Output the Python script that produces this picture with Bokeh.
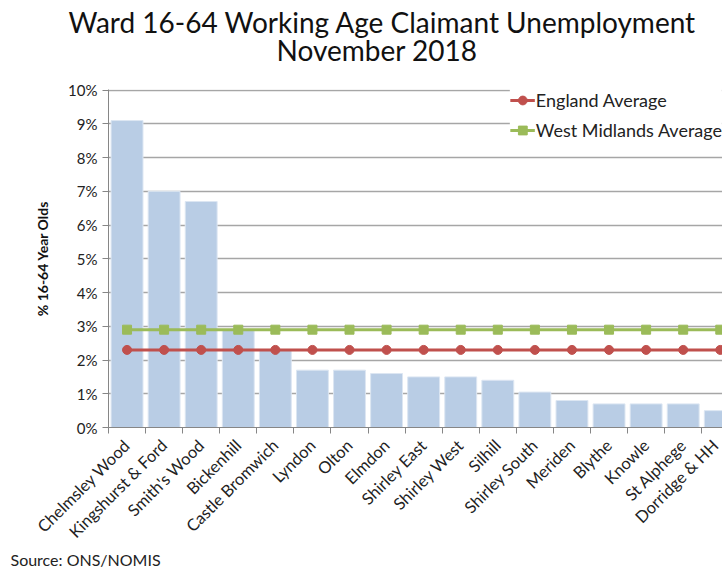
from bokeh.plotting import figure
from bokeh.models import FixedTicker, Range1d, Legend, LegendItem, Title
from bokeh.embed import file_html
from bokeh.resources import INLINE
import math

wards = ["Chelmsley Wood", "Kingshurst & Ford", "Smith's Wood", "Bickenhill",
         "Castle Bromwich", "Lyndon", "Olton", "Elmdon", "Shirley East",
         "Shirley West", "Silhill", "Shirley South", "Meriden", "Blythe",
         "Knowle", "St Alphege", "Dorridge & HH"]
rates = [9.1, 7.0, 6.7, 2.9, 2.3, 1.7, 1.7, 1.6, 1.5, 1.5, 1.4, 1.05,
         0.8, 0.7, 0.7, 0.7, 0.5]
england_avg = [2.3] * len(wards)
wm_avg = [2.9] * len(wards)
y_ticks = [0, 1, 2, 3, 4, 5, 6, 7, 8, 9, 10]
y_tick_labels = ["0%", "1%", "2%", "3%", "4%", "5%", "6%", "7%", "8%", "9%", "10%"]
title_lines = ["Ward 16-64 Working Age Claimant Unemployment", "November 2018"]
y_title = "% 16-64 Year Olds"
source_note = "Source: ONS/NOMIS"

FONT = "Lato"
xs = [i + 0.5 for i in range(len(wards))]

W, H = 722, 570
LEFT, TOP, BOTTOM = 108, 89, 143

p = figure(width=W, height=H, output_backend="svg", toolbar_location=None,
           x_range=Range1d(0, 16.56), y_range=Range1d(0, 10.02),
           min_border_left=LEFT, min_border_right=0, min_border_top=TOP,
           min_border_bottom=BOTTOM)
p.outline_line_color = None
p.background_fill_color = "white"
p.title = None

p.vbar(x=xs, top=rates, width=0.86, fill_color="#b9cde5",
       line_color="#dce6f2", line_width=1)

eng_line = p.line(xs, england_avg, line_color="#c0504d", line_width=3)
eng_mark = p.scatter(xs, england_avg, marker="circle", size=9,
                     fill_color="#c0504d", line_color="#c0504d")
wm_line = p.line(xs, wm_avg, line_color="#9bbb59", line_width=3)
wm_mark = p.scatter(xs, wm_avg, marker="square", size=9,
                    fill_color="#9bbb59", line_color="#9bbb59")

legend = Legend(items=[
    LegendItem(label="England Average", renderers=[eng_line, eng_mark]),
    LegendItem(label="West Midlands Average", renderers=[wm_line, wm_mark]),
], location="top_right", margin=0, padding=2, spacing=8,
    glyph_width=25, glyph_height=22, label_height=22, label_standoff=1,
    label_text_font=FONT, label_text_font_size="18px",
    label_text_color="#222222", background_fill_color="white",
    background_fill_alpha=1.0, border_line_color=None)
p.add_layout(legend, "center")

# x axis: labels at category centres, ticks at category boundaries
xa = p.xaxis[0]
xa.ticker = FixedTicker(ticks=xs, minor_ticks=list(range(len(wards) + 1)))
xa.major_label_overrides = {x: w for x, w in zip(xs, wards)}
xa.major_label_orientation = math.pi / 4
xa.major_tick_line_color = None
xa.minor_tick_in = 0
xa.minor_tick_out = 6
xa.minor_tick_line_color = "#868686"
xa.axis_line_color = "#868686"
xa.major_label_text_font = FONT
xa.major_label_text_font_size = "16.5px"
xa.major_label_text_color = "#222222"
xa.major_label_standoff = 9

# y axis
ya = p.yaxis[0]
ya.ticker = FixedTicker(ticks=y_ticks, minor_ticks=[])
ya.major_label_overrides = {t: l for t, l in zip(y_ticks, y_tick_labels)}
ya.major_tick_in = 0
ya.major_tick_out = 6
ya.major_tick_line_color = "#868686"
ya.axis_line_color = "#868686"
ya.major_label_text_font = FONT
ya.major_label_text_font_size = "15px"
ya.major_label_text_color = "#222222"
ya.axis_label = y_title
ya.axis_label_text_font = FONT
ya.axis_label_text_font_size = "14px"
ya.axis_label_text_font_style = "bold"
ya.axis_label_text_color = "#111111"
ya.axis_label_standoff = 14

p.xgrid.grid_line_color = None
p.ygrid.ticker = FixedTicker(ticks=y_ticks)
p.ygrid.grid_line_color = "#a6a6a6"
p.ygrid.grid_line_width = 1.5

# titles (added nearest-first)
p.add_layout(Title(text=title_lines[1], align="left", text_font=FONT,
                   text_font_size="28px", text_font_style="normal",
                   text_color="#111111", standoff=46, offset=168), "above")
p.add_layout(Title(text=title_lines[0], align="left", text_font=FONT,
                   text_font_size="28px", text_font_style="normal",
                   text_color="#111111", standoff=-62, offset=-40), "above")
p.add_layout(Title(text=source_note, align="left", vertical_align="top",
                   text_font=FONT, text_font_size="16px",
                   text_font_style="normal", text_color="#222222",
                   offset=-98, standoff=-4), "below")

open("out.html", "w").write(file_html(p, INLINE))
